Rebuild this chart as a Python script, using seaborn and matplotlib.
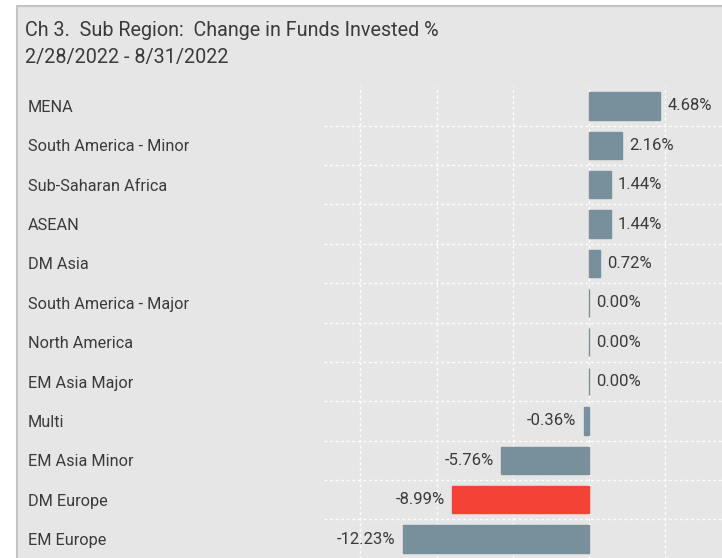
import numpy as np
import pandas as pd
import seaborn as sns
import matplotlib.pyplot as plt
from matplotlib.patches import Rectangle

# Data
regions = ["MENA", "South America - Minor", "Sub-Saharan Africa", "ASEAN", "DM Asia",
           "South America - Major", "North America", "EM Asia Major", "Multi",
           "EM Asia Minor", "DM Europe", "EM Europe"]
change_pct = [4.68, 2.16, 1.44, 1.44, 0.72, 0.00, 0.00, 0.00, -0.36, -5.76, -8.99, -12.23]
highlight = "DM Europe"

title_line1 = "Ch 3.  Sub Region:  Change in Funds Invested %"
title_line2 = "2/28/2022 - 8/31/2022"

df = pd.DataFrame({"Region": regions, "Change": change_pct})
bar_color = "#78909c"
hi_color = "#f44336"
palette = {r: (hi_color if r == highlight else bar_color) for r in regions}

sns.set_style("white")
plt.rcParams['font.family'] = ['Roboto', 'DejaVu Sans']
text_color = "#3a3a3a"

W, H = 722, 558
fig = plt.figure(figsize=(W / 100, H / 100), dpi=100)
fig.patch.set_facecolor("white")

# panel frame
frame = Rectangle((17 / W, -0.1), 1.2, 1.1 - 5.7 / H, transform=fig.transFigure,
                  facecolor="#e6e6e6", edgecolor="#c4c4c4", linewidth=1.5, zorder=-5)
fig.patches.append(frame)

fig.text(25 / W, 1 - 30 / H, title_line1, fontsize=14.2, color=text_color, va="center", ha="left")
fig.text(25 / W, 1 - 57 / H, title_line2, fontsize=14.2, color=text_color, va="center", ha="left")

ax_left, ax_top, ax_bottom = 324, 86.3, 558.7
ax = fig.add_axes([ax_left / W, 1 - ax_bottom / H, (W - ax_left) / W, (ax_bottom - ax_top) / H])
ax.set_facecolor("none")
ax.set_zorder(2)

sns.barplot(data=df, x="Change", y="Region", hue="Region", palette=palette,
            orient="h", width=0.7, saturation=1, legend=False, ax=ax, zorder=3)
for p in ax.patches:
    p.set_edgecolor(p.get_facecolor())
    p.set_linewidth(1)

for c in ax.containers:
    ax.bar_label(c, fmt="{:.2f}%", padding=5, fontsize=12, color=text_color)

ax.set_xlim(-17.38, 8.72)
ax.set_ylim(len(regions) - 0.5, -0.5)
ax.set_xticks([-15, -10, -5, 0, 5])
ax.set_xticklabels([])
ax.set_yticks(np.arange(len(regions)))
ax.set_yticks(np.arange(len(regions) - 1) + 0.5, minor=True)
ax.set_yticklabels(regions, ha="left", fontsize=11.7, color=text_color)
ax.tick_params(axis="y", which="both", length=0, pad=(ax_left - 28) * 0.72)
ax.tick_params(axis="x", length=0)
ax.grid(axis="x", which="major", color="white", linestyle=(0, (2, 2)), linewidth=1, zorder=1)
ax.grid(axis="y", which="minor", color="white", linestyle=(0, (2, 2)), linewidth=1, zorder=1)
ax.grid(axis="y", which="major", visible=False)
ax.set_axisbelow(True)
ax.set_xlabel("")
ax.set_ylabel("")
sns.despine(ax=ax, left=True, bottom=True)

fig.savefig("out.png", dpi=100)
